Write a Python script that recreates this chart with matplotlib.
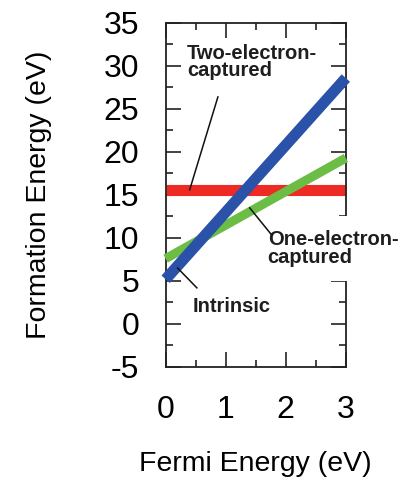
import matplotlib
matplotlib.use("Agg")
import matplotlib.pyplot as plt
from matplotlib.ticker import MultipleLocator

plt.rcParams['font.family'] = ['Liberation Sans', 'DejaVu Sans']
plt.rcParams['axes.unicode_minus'] = False

# Data
fermi = [0.0, 3.0]
two_electron = [15.6, 15.6]
one_electron = [7.6, 19.3]
intrinsic = [5.2, 28.6]

xlim = (0, 3)
ylim = (-5, 35)
xticks = [0, 1, 2, 3]
yticks = [-5, 0, 5, 10, 15, 20, 25, 30, 35]

fig = plt.figure(figsize=(4.04, 4.82), dpi=100)
ax = fig.add_axes([0.41, 0.2386, 0.446, 0.7137])

ax.plot(fermi, two_electron, color='#ee2a24', lw=8, solid_capstyle='butt', clip_on=False, zorder=2)
ax.plot(fermi, one_electron, color='#6cbd45', lw=6.5, solid_capstyle='butt', clip_on=False, zorder=3)
ax.plot(fermi, intrinsic, color='#2a52a8', lw=8, solid_capstyle='butt', clip_on=False, zorder=4)

ax.set_xlim(*xlim)
ax.set_ylim(*ylim)
ax.set_xticks(xticks)
ax.set_yticks(yticks)
ax.xaxis.set_minor_locator(MultipleLocator(0.5))
ax.yaxis.set_minor_locator(MultipleLocator(2.5))
ax.tick_params(which='both', direction='in', top=True, right=True, width=1.2, color='#222222')
ax.tick_params(which='major', length=10.5, labelsize=23, pad=20)
ax.tick_params(which='minor', length=5)
ax.tick_params(axis='y', which='major', pad=19)
for sp in ax.spines.values():
    sp.set_linewidth(1.3)
    sp.set_color('#222222')

ax.set_xlabel('Fermi Energy (eV)', fontsize=20.5, labelpad=19)
ax.set_ylabel('Formation Energy (eV)', fontsize=20.5, labelpad=37)

tc = '#1e1e1e'
ax.text(0.354, 32.6, 'Two-electron-\ncaptured', fontsize=14.5, fontweight='bold',
        color=tc, ha='left', va='top', linespacing=0.9, zorder=6)
ax.plot([0.87, 0.40], [26.4, 15.6], color='#111111', lw=1.1, zorder=5)

ax.text(1.70, 10.9, 'One-electron-\ncaptured', fontsize=14.5, fontweight='bold',
        color=tc, ha='left', va='top', linespacing=0.9, zorder=6, clip_on=False,
        bbox=dict(boxstyle='square,pad=0.7', fc='white', ec='none'))
ax.plot([1.40, 1.76], [13.5, 10.4], color='#111111', lw=1.1, zorder=7)

ax.text(0.455, 3.1, 'Intrinsic', fontsize=14.5, fontweight='bold',
        color=tc, ha='left', va='top', zorder=6)
ax.plot([0.20, 0.52], [6.5, 4.2], color='#111111', lw=1.1, zorder=5)

fig.savefig('out.png', dpi=100)
